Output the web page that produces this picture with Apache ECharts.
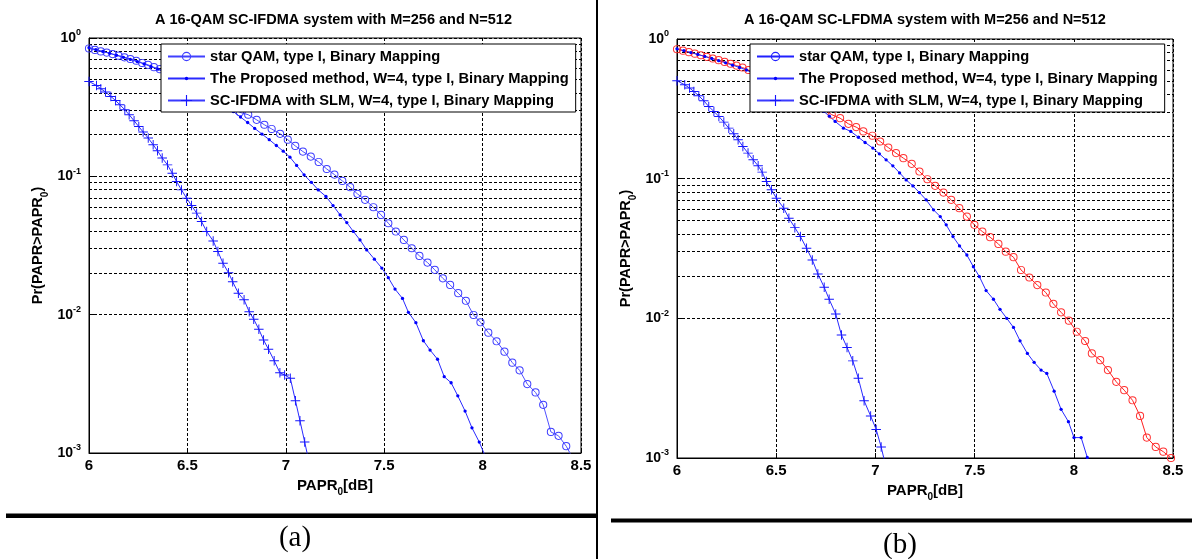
<!DOCTYPE html>
<html>
<head>
<meta charset="utf-8">
<title>PAPR CCDF</title>
<script src="https://cdn.jsdelivr.net/npm/echarts@6.0.0/dist/echarts.min.js"></script>
<style>
html, body { margin: 0; padding: 0; background: #fff; }
#main { width: 1192px; height: 559px; }
</style>
</head>
<body>
<div id="main"></div>
<script>
// names / titles
var titleA = 'A 16-QAM SC-IFDMA system with M=256 and N=512';
var titleB = 'A 16-QAM SC-LFDMA system with M=256 and N=512';
var nameStar = 'star QAM, type I, Binary Mapping';
var nameProp = 'The Proposed method, W=4, type I, Binary Mapping';
var nameSlm = 'SC-IFDMA with SLM, W=4, type I, Binary Mapping';

// minor grid values of the log axis
var minorGrid = [0.002, 0.003, 0.004, 0.005, 0.006, 0.007, 0.008, 0.009,
    0.02, 0.03, 0.04, 0.05, 0.06, 0.07, 0.08, 0.09,
    0.2, 0.3, 0.4, 0.5, 0.6, 0.7, 0.8, 0.9];

// (a) [PAPR0 dB, Pr]
var starQamA = [[6.00,0.84],[6.03,0.82],[6.06,0.80],[6.09,0.785],[6.12,0.765],[6.15,0.745],[6.18,0.725],
    [6.21,0.705],[6.24,0.685],[6.27,0.66],[6.30,0.64],[6.33,0.615],[6.36,0.595],[6.42,0.55],[6.48,0.50],
    [6.54,0.45],[6.60,0.405],[6.66,0.36],[6.72,0.315],[6.767,0.290],[6.809,0.279],[6.852,0.256],[6.891,0.236],
    [6.928,0.220],[6.971,0.203],[7.010,0.184],[7.048,0.166],[7.087,0.151],[7.127,0.139],[7.167,0.127],
    [7.208,0.113],[7.247,0.103],[7.287,0.0927],[7.327,0.0835],[7.364,0.0747],[7.403,0.0676],[7.445,0.0598],
    [7.484,0.0526],[7.521,0.0458],[7.559,0.0399],[7.600,0.0347],[7.640,0.0302],[7.679,0.0266],[7.720,0.0238],
    [7.757,0.0211],[7.798,0.0183],[7.835,0.0164],[7.876,0.0143],[7.915,0.0126],[7.954,0.00995],[7.989,0.00881],
    [8.029,0.00741],[8.071,0.00642],[8.111,0.00540],[8.151,0.00450],[8.188,0.00396],[8.227,0.00315],
    [8.269,0.00274],[8.308,0.00223],[8.347,0.00142],[8.386,0.00133],[8.425,0.00112],[8.465,0.00088]];
var proposedA = [[6.00,0.85],[6.035,0.825],[6.07,0.80],[6.105,0.775],[6.14,0.75],[6.175,0.725],[6.21,0.70],
    [6.245,0.675],[6.28,0.65],[6.315,0.62],[6.35,0.595],[6.42,0.53],[6.49,0.47],[6.56,0.41],[6.63,0.36],
    [6.70,0.31],[6.733,0.294],[6.770,0.268],[6.806,0.245],[6.842,0.222],[6.879,0.202],[6.916,0.184],
    [6.952,0.167],[6.987,0.152],[7.021,0.1375],[7.055,0.120],[7.093,0.1025],[7.130,0.0905],[7.165,0.0798],
    [7.204,0.0715],[7.240,0.0615],[7.276,0.0526],[7.310,0.0463],[7.343,0.0400],[7.377,0.0347],[7.411,0.0294],
    [7.450,0.0252],[7.488,0.0217],[7.521,0.0185],[7.555,0.0153],[7.593,0.0131],[7.623,0.0104],[7.661,0.00875],
    [7.699,0.00648],[7.733,0.00555],[7.771,0.00476],[7.805,0.00356],[7.840,0.00322],[7.874,0.00259],
    [7.911,0.00201],[7.946,0.00152],[7.983,0.00120],[8.013,0.00095]];
var slmA = [[6.00,0.485],[6.038,0.454],[6.060,0.430],[6.084,0.407],[6.111,0.378],[6.135,0.353],[6.157,0.329],
    [6.182,0.303],[6.204,0.279],[6.229,0.252],[6.253,0.229],[6.275,0.209],[6.301,0.189],[6.326,0.169],
    [6.348,0.153],[6.372,0.1355],[6.399,0.121],[6.423,0.1054],[6.445,0.0917],[6.470,0.0798],[6.496,0.0695],
    [6.521,0.0615],[6.547,0.0542],[6.572,0.0471],[6.598,0.0399],[6.631,0.0341],[6.655,0.0286],[6.681,0.0235],
    [6.709,0.0201],[6.730,0.0173],[6.759,0.0143],[6.788,0.0128],[6.814,0.0105],[6.837,0.00927],[6.863,0.00784],
    [6.887,0.00656],[6.912,0.00562],[6.941,0.00465],[6.970,0.00380],[6.994,0.00366],[7.023,0.00347],
    [7.049,0.00239],[7.072,0.00171],[7.096,0.00120],[7.118,0.00086]];

// (b)
var starQamB = [[6.00,0.845],[6.03,0.825],[6.06,0.805],[6.09,0.785],[6.12,0.765],[6.15,0.745],[6.18,0.725],
    [6.21,0.705],[6.24,0.685],[6.27,0.665],[6.30,0.645],[6.33,0.625],[6.36,0.60],[6.42,0.55],[6.48,0.50],
    [6.54,0.455],[6.60,0.41],[6.66,0.37],[6.72,0.33],[6.780,0.287],[6.822,0.271],[6.864,0.247],[6.903,0.234],
    [6.939,0.218],[6.985,0.203],[7.024,0.1845],[7.065,0.167],[7.104,0.1524],[7.141,0.1403],[7.183,0.1277],
    [7.222,0.1125],[7.262,0.0991],[7.301,0.0888],[7.343,0.0795],[7.382,0.0705],[7.423,0.0615],[7.461,0.0535],
    [7.499,0.0467],[7.539,0.0418],[7.578,0.0381],[7.620,0.0341],[7.657,0.0300],[7.696,0.0274],[7.734,0.0222],
    [7.776,0.0196],[7.816,0.0173],[7.859,0.0153],[7.897,0.0127],[7.936,0.01104],[7.975,0.00962],[8.015,0.00802],
    [8.057,0.00688],[8.091,0.00561],[8.133,0.00502],[8.172,0.00426],[8.214,0.00351],[8.254,0.00306],
    [8.296,0.00259],[8.334,0.00200],[8.368,0.00140],[8.413,0.00120],[8.451,0.00111],[8.49,0.00100]];
var proposedB = [[6.00,0.85],[6.035,0.825],[6.07,0.80],[6.105,0.775],[6.14,0.75],[6.175,0.725],[6.21,0.70],
    [6.245,0.675],[6.28,0.65],[6.315,0.625],[6.35,0.60],[6.42,0.535],[6.49,0.475],[6.56,0.415],[6.63,0.365],
    [6.70,0.32],[6.740,0.303],[6.768,0.28],[6.797,0.257],[6.839,0.230],[6.876,0.218],[6.914,0.198],
    [6.948,0.1815],[6.987,0.1655],[7.020,0.1506],[7.054,0.1364],[7.088,0.1236],[7.122,0.110],[7.155,0.098],
    [7.189,0.0887],[7.222,0.0795],[7.256,0.0705],[7.293,0.0598],[7.327,0.0535],[7.357,0.0467],[7.391,0.0385],
    [7.424,0.0330],[7.461,0.0284],[7.494,0.0234],[7.524,0.0199],[7.558,0.0158],[7.595,0.0137],[7.628,0.0116],
    [7.662,0.0100],[7.696,0.00861],[7.729,0.00690],[7.766,0.00561],[7.800,0.00484],[7.835,0.00426],
    [7.864,0.00403],[7.901,0.00301],[7.936,0.00223],[7.973,0.00182],[8.001,0.00140],[8.037,0.00140],
    [8.068,0.00101],[8.09,0.00080]];
var slmB = [[6.00,0.502],[6.039,0.470],[6.063,0.446],[6.085,0.421],[6.110,0.392],[6.135,0.361],[6.160,0.329],
    [6.186,0.303],[6.211,0.279],[6.236,0.254],[6.261,0.230],[6.286,0.2095],[6.308,0.190],[6.332,0.170],
    [6.358,0.1524],[6.384,0.1364],[6.409,0.1236],[6.429,0.1114],[6.451,0.0953],[6.476,0.0832],[6.501,0.0725],
    [6.538,0.0615],[6.564,0.0521],[6.594,0.0446],[6.622,0.0385],[6.653,0.0318],[6.682,0.0262],[6.710,0.0208],
    [6.742,0.01668],[6.767,0.01368],[6.800,0.01074],[6.829,0.00759],[6.857,0.00619],[6.886,0.00496],
    [6.914,0.00372],[6.943,0.00257],[6.976,0.00200],[7.004,0.00160],[7.029,0.00120],[7.054,0.00085]];

var FONT = '"Liberation Sans", Arial, sans-serif';
// marker shapes, padded in a 12x12 box so legend and plot sizes match
var RING = 'path://M0,0M12,12M6,1A5,5 0 1 1 6,11A5,5 0 1 1 6,1ZM6,2.2A3.8,3.8 0 1 0 6,9.8A3.8,3.8 0 1 0 6,2.2Z';
var DOT = 'path://M0,0M12,12M4.2,6A1.8,1.8 0 1 1 7.8,6A1.8,1.8 0 1 1 4.2,6Z';
var PLUS = 'path://M0,0M12,12M5.4,0H6.6V5.4H12V6.6H6.6V12H5.4V6.6H0V5.4H5.4Z';

var chart = echarts.init(document.getElementById('main'));

function xAxisOf(i) {
    return {
        type: 'value', gridIndex: i, min: 6, max: 8.5, interval: 0.5,
        name: '{m|PAPR}{u|0}{m|[dB]}', nameLocation: 'middle', nameGap: 15,
        nameTextStyle: { rich: {
            m: { fontSize: 15, fontWeight: 'bold', fontFamily: FONT, color: '#000' },
            u: { fontSize: 10, fontWeight: 'bold', fontFamily: FONT, color: '#000', padding: [14, 0, 0, 0] }
        } },
        axisLine: { show: true, lineStyle: { color: '#000', width: 1 } },
        axisTick: { show: true, inside: true, length: 5, lineStyle: { color: '#000' } },
        axisLabel: { margin: 5, fontSize: 15, fontWeight: 'bold', fontFamily: FONT, color: '#000' },
        splitLine: { show: true, lineStyle: { color: '#000', type: [3, 2], width: 1 } }
    };
}
function yAxisOf(i) {
    return {
        type: 'log', logBase: 10, gridIndex: i, min: 0.001, max: 1,
        name: '{m|Pr(PAPR>PAPR}{u|0}{m|)}', nameLocation: 'middle', nameRotate: 90, nameGap: 39,
        nameTextStyle: { rich: {
            m: { fontSize: 14.5, fontWeight: 'bold', fontFamily: FONT, color: '#000' },
            u: { fontSize: 10, fontWeight: 'bold', fontFamily: FONT, color: '#000', padding: [14, 0, 0, 0] }
        } },
        axisLine: { show: true, lineStyle: { color: '#000', width: 1 } },
        axisTick: { show: true, inside: true, length: 5, lineStyle: { color: '#000' } },
        axisLabel: {
            margin: 8,
            formatter: function (v) { return '{b|10}{s|' + Math.round(Math.log10(v)) + '}'; },
            rich: {
                b: { fontSize: 14, fontWeight: 'bold', fontFamily: FONT, color: '#000' },
                s: { fontSize: 9, fontWeight: 'bold', fontFamily: FONT, color: '#000', padding: [0, 0, 10, 0] }
            }
        },
        splitLine: { show: true, lineStyle: { color: '#000', type: [3, 2], width: 1 } }
    };
}
function minorLines() {
    return {
        silent: true, symbol: 'none', z: 1, animation: false,
        label: { show: false },
        lineStyle: { color: '#000', type: [3, 2], width: 1 },
        data: minorGrid.map(function (v) { return { yAxis: v }; })
    };
}
function lineSeries(name, data, i, symbol, size, lineColor, markColor, withGrid) {
    var s = {
        name: name, type: 'line', xAxisIndex: i, yAxisIndex: i, data: data,
        symbol: symbol, symbolSize: size, z: 2,
        lineStyle: { color: lineColor, width: 1 },
        itemStyle: { color: markColor },
        emphasis: { disabled: true }
    };
    if (withGrid) s.markLine = minorLines();
    return s;
}
function legendOf(left, top, starColor) {
    return {
        orient: 'vertical', left: left, top: top,
        padding: [5, 7, 4, 6], itemGap: 7, itemWidth: 37, itemHeight: 14,
        backgroundColor: '#fff', borderColor: '#000', borderWidth: 1,
        selectedMode: false,
        textStyle: { fontSize: 14.7, fontWeight: 'bold', fontFamily: FONT, color: '#000', lineHeight: 14 },
        data: [
            { name: nameStar, itemStyle: { color: starColor }, lineStyle: { color: starColor } },
            { name: nameProp, itemStyle: { color: '#0000ff' }, lineStyle: { color: '#2a2aff' } },
            { name: nameSlm, itemStyle: { color: '#1515ff' }, lineStyle: { color: '#3a3aff' } }
        ]
    };
}

var option = {
    animation: false,
    backgroundColor: '#fff',
    title: [
        { text: titleA, left: 155, top: 12, padding: 0,
          textStyle: { fontSize: 14.5, fontWeight: 'bold', fontFamily: FONT, color: '#000' } },
        { text: titleB, left: 744, top: 12, padding: 0,
          textStyle: { fontSize: 14.5, fontWeight: 'bold', fontFamily: FONT, color: '#000' } }
    ],
    grid: [
        { left: 89, top: 38, width: 492, height: 415, show: true, borderColor: '#000', borderWidth: 1,
          backgroundColor: '#fff', containLabel: false, outerBoundsMode: 'none' },
        { left: 677, top: 39, width: 496, height: 419, show: true, borderColor: '#000', borderWidth: 1,
          backgroundColor: '#fff', containLabel: false, outerBoundsMode: 'none' }
    ],
    xAxis: [xAxisOf(0), xAxisOf(1)],
    yAxis: [yAxisOf(0), yAxisOf(1)],
    legend: [legendOf(161, 44, '#4040ff'), legendOf(750, 44, '#2020ff')],
    series: [
        lineSeries(nameStar, starQamA, 0, RING, 9.8, '#5050ff', '#3c3cff', true),
        lineSeries(nameProp, proposedA, 0, DOT, 11, '#2a2aff', '#0000ff', false),
        lineSeries(nameSlm, slmA, 0, PLUS, 9.5, '#2a2aff', '#1515ff', false),
        lineSeries(nameStar, starQamB, 1, RING, 9.8, '#ff2020', '#ff3030', true),
        lineSeries(nameProp, proposedB, 1, DOT, 11, '#2a2aff', '#0000ff', false),
        lineSeries(nameSlm, slmB, 1, PLUS, 9.5, '#2a2aff', '#1515ff', false)
    ],
    graphic: [
        { type: 'rect', left: 596, top: 0, shape: { width: 2, height: 559 }, style: { fill: '#000' }, silent: true },
        { type: 'rect', left: 6, top: 513.5, shape: { width: 590, height: 4.5 }, style: { fill: '#000' }, silent: true },
        { type: 'rect', left: 611, top: 518.5, shape: { width: 581, height: 4 }, style: { fill: '#000' }, silent: true },
        { type: 'text', x: 295, y: 538, silent: true,
          style: { text: '(a)', fill: '#000', font: '29px "Liberation Serif", "Times New Roman", serif',
                   textAlign: 'center', textVerticalAlign: 'middle' } },
        { type: 'text', x: 900, y: 545, silent: true,
          style: { text: '(b)', fill: '#000', font: '29px "Liberation Serif", "Times New Roman", serif',
                   textAlign: 'center', textVerticalAlign: 'middle' } }
    ]
};
chart.setOption(option);
</script>
</body>
</html>
